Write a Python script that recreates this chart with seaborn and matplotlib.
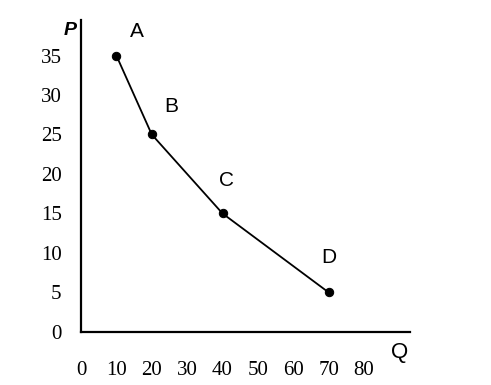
import numpy as np
import pandas as pd
import matplotlib
matplotlib.use("Agg")
import matplotlib.pyplot as plt
import seaborn as sns

# -----------------------------
# DATA
# -----------------------------
points = ["A", "B", "C", "D"]
quantity = [10, 20, 40, 70]
price = [35, 25, 15, 5]
x_ticks = [0, 10, 20, 30, 40, 50, 60, 70, 80]
y_ticks = [0, 5, 10, 15, 20, 25, 30, 35]

df = pd.DataFrame({"Q": quantity, "P": price, "point": points})

sns.set_style("white")
plt.rcParams["font.family"] = ["Liberation Serif", "DejaVu Serif"]
plt.rcParams["text.color"] = "black"

fig = plt.figure(figsize=(4.91, 3.85), dpi=100)
ax = fig.add_axes([0.165, 0.138, 0.670, 0.810])

sns.lineplot(data=df, x="Q", y="P", ax=ax, color="black", linewidth=1.3,
             marker="o", markersize=6, markeredgecolor="black", sort=False)

# point labels
offsets = {"A": (5.8, 3.0), "B": (5.4, 3.5), "C": (1.2, 4.2), "D": (0.0, 4.4)}
for _, row in df.iterrows():
    dx, dy = offsets[row["point"]]
    ax.text(row["Q"] + dx, row["P"] + dy, row["point"], fontsize=15,
            ha="center", va="center", color="black",
            family=["Liberation Sans", "DejaVu Sans"])

ax.set_xlim(0, 93)
ax.set_ylim(0, 39.5)
ax.set_xticks(x_ticks)
ax.set_yticks(y_ticks)
ax.set_xticklabels([str(t) for t in x_ticks], fontsize=15)
ax.set_yticklabels([str(t) for t in y_ticks], fontsize=15)
ax.tick_params(axis="x", length=0, pad=21, labelcolor="black")
ax.tick_params(axis="y", length=0, pad=14, labelcolor="black")

for side in ["top", "right"]:
    ax.spines[side].set_visible(False)
for side in ["left", "bottom"]:
    ax.spines[side].set_linewidth(1.6)
    ax.spines[side].set_color("black")

ax.set_xlabel("")
ax.set_ylabel("")
ax.text(-3.1, 38.2, "P", fontsize=14, fontweight="bold", fontstyle="italic",
        ha="center", va="center", color="black",
        family=["Liberation Sans", "DejaVu Sans"], clip_on=False)
ax.text(90, -2.6, "Q", fontsize=16, ha="center", va="center", color="black",
        family=["Liberation Sans", "DejaVu Sans"], clip_on=False)

fig.savefig("out.png", dpi=100, facecolor="white")
